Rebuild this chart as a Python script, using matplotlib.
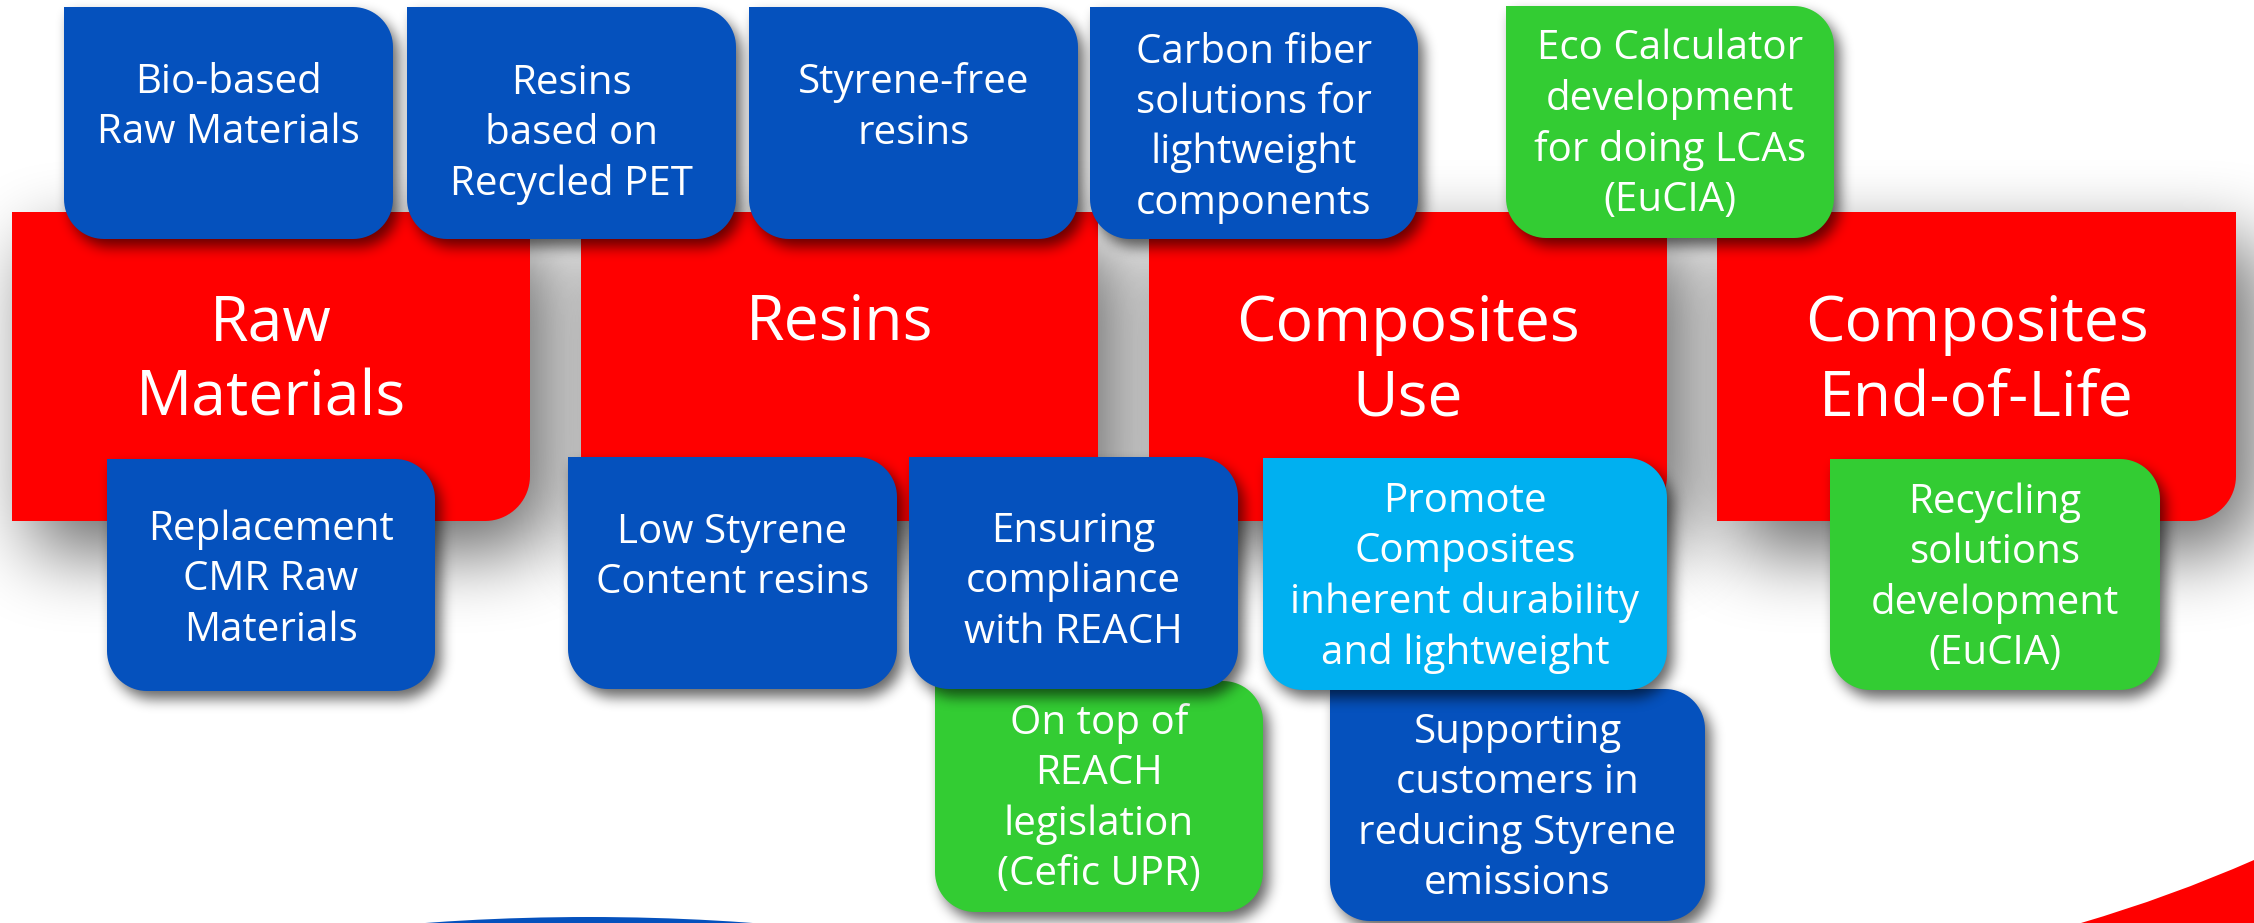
import numpy as np
import matplotlib
matplotlib.use("Agg")
import matplotlib.pyplot as plt
from matplotlib.patches import Polygon, Ellipse, PathPatch
from matplotlib.path import Path

W, H = 2254, 923
BLUE = "#0551BD"; RED = "#FF0000"; GREEN = "#33CC33"; CYAN = "#00B0F0"
FONT = "Open Sans"

# value-chain stages (big red blocks)
stage_labels = ["Raw\nMaterials", "Resins", "Composites\nUse", "Composites\nEnd-of-Life"]
stage_boxes = [(12, 212, 530, 521), (581, 212, 1098, 521),
               (1149, 212, 1667, 521), (1717, 212, 2236, 521)]
stage_text_y = [362, 323, 362, 362]

# initiatives, listed in drawing order (later ones sit on top)
init_labels = [
    "Bio-based\nRaw Materials",
    "Resins\nbased on\nRecycled PET",
    "Styrene-free\nresins",
    "Carbon fiber\nsolutions for\nlightweight\ncomponents",
    "Eco Calculator\ndevelopment\nfor doing LCAs\n(EuCIA)",
    "Replacement\nCMR Raw\nMaterials",
    "Low Styrene\nContent resins",
    "On top of\nREACH\nlegislation\n(Cefic UPR)",
    "Ensuring\ncompliance\nwith REACH",
    "Supporting\ncustomers in\nreducing Styrene\nemissions",
    "Promote\nComposites\ninherent durability\nand lightweight",
    "Recycling\nsolutions\ndevelopment\n(EuCIA)",
]
init_colors = [BLUE, BLUE, BLUE, BLUE, GREEN, BLUE, BLUE, GREEN, BLUE, BLUE, CYAN, GREEN]
init_boxes = [(64, 7, 393, 239), (407, 7, 736, 239), (749, 7, 1078, 239), (1090, 7, 1418, 239),
              (1506, 6, 1834, 238), (107, 459, 435, 691), (568, 457, 897, 689), (935, 681, 1263, 912),
              (909, 457, 1238, 689), (1330, 689, 1705, 921), (1263, 458, 1667, 690), (1830, 459, 2160, 690)]
init_text_y = [108, 134, 108, 128, 125, 580, 558, 799, 582, 808, 578, 578]


def rr_poly(x0, y0, x1, y1, radii):
    # corners tl, tr, br, bl ; y axis points down
    tl, tr, br, bl = radii
    pts = []
    for r, cx, cy, a0 in [(tl, x0 + tl, y0 + tl, np.pi), (tr, x1 - tr, y0 + tr, 1.5 * np.pi),
                          (br, x1 - br, y1 - br, 0.0), (bl, x0 + bl, y1 - bl, 0.5 * np.pi)]:
        t = np.linspace(a0, a0 + np.pi / 2, 20 if r > 0 else 1)
        pts.append(np.c_[cx + r * np.cos(t), cy + r * np.sin(t)])
    return np.vstack(pts)


def rr_mask(X, Y, x0, y0, x1, y1, radii):
    inside = (X >= x0) & (X <= x1) & (Y >= y0) & (Y <= y1)
    tl, tr, br, bl = radii
    for r, cx, cy, sx, sy in [(tl, x0 + tl, y0 + tl, -1, -1), (tr, x1 - tr, y0 + tr, 1, -1),
                              (br, x1 - br, y1 - br, 1, 1), (bl, x0 + bl, y1 - bl, -1, 1)]:
        if r <= 0:
            continue
        zone = ((X - cx) * sx > 0) & ((Y - cy) * sy > 0)
        inside &= ~(zone & ((X - cx) ** 2 + (Y - cy) ** 2 > r * r))
    return inside


def blur1d(a, r, axis):
    a = np.moveaxis(a, axis, -1)
    p = np.pad(a, [(0, 0)] * (a.ndim - 1) + [(r + 1, r)])
    c = np.cumsum(p, axis=-1)
    out = (c[..., 2 * r + 1:] - c[..., :-2 * r - 1]) / (2 * r + 1)
    return np.moveaxis(out, -1, axis)


def add_shadow(ax, box, radii, dx, dy, sigma, alpha, z):
    x0, y0, x1, y1 = box
    m = int(3 * sigma + max(abs(dx), abs(dy))) + 2
    gx0, gy0, gx1, gy1 = int(x0) - m, int(y0) - m, int(x1) + m, int(y1) + m
    X, Y = np.meshgrid(np.arange(gx0, gx1) + 0.5, np.arange(gy0, gy1) + 0.5)
    mask = rr_mask(X - dx, Y - dy, x0, y0, x1, y1, radii).astype(float)
    r = max(1, int(round((np.sqrt(4 * sigma ** 2 + 1) - 1) / 2)))
    for _ in range(3):
        mask = blur1d(blur1d(mask, r, 0), r, 1)
    img = np.zeros(mask.shape + (4,)); img[..., 3] = np.clip(mask, 0, 1) * alpha
    ax.imshow(img, extent=(gx0, gx1, gy1, gy0), origin="upper", interpolation="bilinear",
              zorder=z, aspect="auto")


fig = plt.figure(figsize=(W / 100, H / 100), dpi=100)
fig.patch.set_facecolor("white")
ax = fig.add_axes([0, 0, 1, 1]); ax.axis("off")

# decorative bits at the bottom
ax.add_patch(Ellipse((589, 1100), 2 * 646, 2 * 183, color=BLUE, lw=0, zorder=0.5))
sw = Path([(2081, 923), (2170, 897), (2254, 860), (2254, 923), (2081, 923)],
          [Path.MOVETO, Path.CURVE3, Path.CURVE3, Path.LINETO, Path.CLOSEPOLY])
ax.add_patch(PathPatch(sw, facecolor=RED, lw=0, zorder=0.5))

# red stage blocks
RED_R = (0, 0, 45, 0)
for b in stage_boxes:
    add_shadow(ax, b, RED_R, 20, 30, 35, 0.6, 1)
for lab, b, ty in zip(stage_labels, stage_boxes, stage_text_y):
    ax.add_patch(Polygon(rr_poly(*b, RED_R), closed=True, facecolor=RED, lw=0, zorder=2))
    ax.text((b[0] + b[2]) / 2, ty, lab, ha="center", va="center", color="white",
            fontsize=45, family=FONT, linespacing=1.27, zorder=2.5)

# initiative boxes
BOX_R = (0, 40, 40, 40)
for i, (lab, col, b, ty) in enumerate(zip(init_labels, init_colors, init_boxes, init_text_y)):
    z = 3 + 2 * i
    add_shadow(ax, b, BOX_R, 6, 8, 6, 0.6, z)
    ax.add_patch(Polygon(rr_poly(*b, BOX_R), closed=True, facecolor=col, lw=0, zorder=z + 1))
    ax.text((b[0] + b[2]) / 2, ty, lab, ha="center", va="center", color="white",
            fontsize=29, family=FONT, linespacing=1.32, zorder=z + 1.5)

ax.set_xlim(0, W); ax.set_ylim(H, 0)
fig.savefig("out.png", dpi=100, facecolor="white")
